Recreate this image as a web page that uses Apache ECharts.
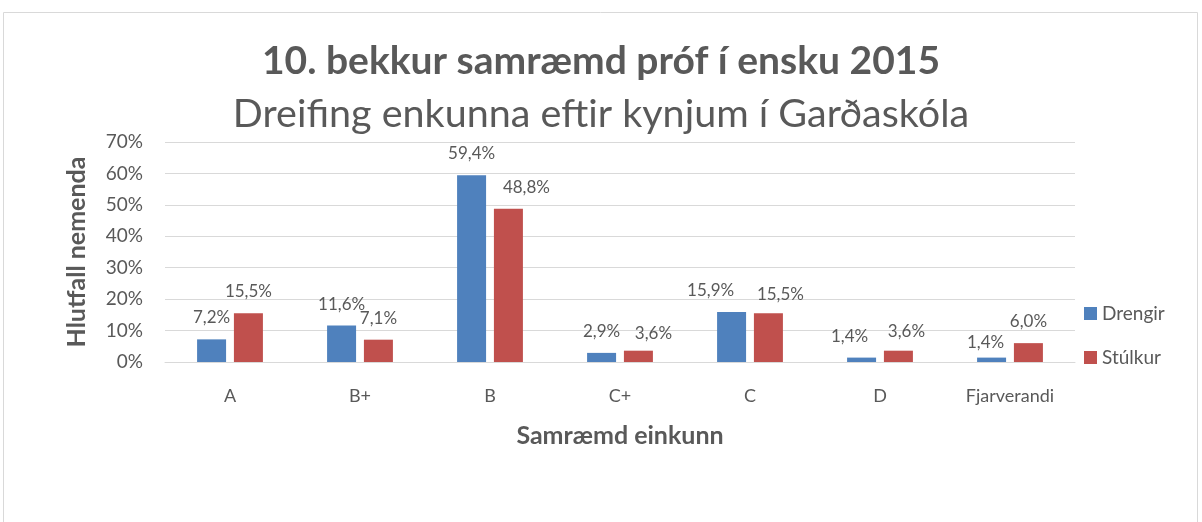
<!DOCTYPE html>
<html><head><meta charset="utf-8">
<script src="https://cdn.jsdelivr.net/npm/echarts@6/dist/echarts.min.js"></script>
<style>html,body{margin:0;padding:0;background:#fff}#c{width:1202px;height:522px}</style>
</head><body><div id="c"></div>
<script>
const categories = ['A','B+','B','C+','C','D','Fjarverandi'];
const drengir = [7.2, 11.6, 59.4, 2.9, 15.9, 1.4, 1.4];
const stulkur = [15.5, 7.1, 48.8, 3.6, 15.5, 3.6, 6.0];
const seriesNames = ['Drengir','Stúlkur'];
const titleText = '10. bekkur samræmd próf í ensku 2015';
const subtitleText = 'Dreifing enkunna eftir kynjum í Garðaskóla';
const yName = 'Hlutfall nemenda';
const xName = 'Samræmd einkunn';

// label nudges (style only), as in the reference where some labels were moved apart
const labelNudgeD = [[0,0],[0,0],[0,0],[0,0],[-21,0],[-12,0],[-6,6]];
const labelNudgeS = [[0,0],[0,0],[18,0],[15,4],[12,3],[8,2],[0,0]];

const FONT = 'Lato';
const GRAY = '#595959';
const fmt = p => p.value.toFixed(1).replace('.', ',') + '%';
const withNudge = (vals, nudges) => vals.map((v, i) => ({value: v, label: {offset: nudges[i]}}));
const chart = echarts.init(document.getElementById('c'));
chart.setOption({
  animation: false,
  textStyle: {fontFamily: FONT},
  graphic: [{type:'rect', shape:{x:3.5,y:12.5,width:1194,height:520}, style:{fill:'none', stroke:'#d9d9d9', lineWidth:1}}],
  title: [
    {text: titleText, left: 'center', top: 37, textStyle:{fontFamily:FONT, fontSize:39, fontWeight:'bold', color:GRAY}},
    {text: subtitleText, left: 'center', top: 89, textStyle:{fontFamily:FONT, fontSize:39.5, fontWeight:'normal', color:GRAY}}
  ],
  legend: {
    orient:'vertical', left:1079, top:299, itemGap:25, itemWidth:13, itemHeight:13, icon:'rect',
    textStyle:{fontFamily:FONT, fontSize:19, color:GRAY}, data: seriesNames
  },
  grid: {left:165, right:127, top:142, bottom:160},
  xAxis: {
    type:'category', data: categories,
    axisLine:{lineStyle:{color:'#d9d9d9', width:1}}, axisTick:{show:false},
    axisLabel:{fontFamily:FONT, fontSize:18, color:GRAY, margin:25},
    name: xName, nameLocation:'middle', nameGap:61,
    nameTextStyle:{fontFamily:FONT, fontSize:25, fontWeight:'bold', color:GRAY}
  },
  yAxis: {
    type:'value', min:0, max:70, interval:10,
    axisLabel:{formatter:'{value}%', fontFamily:FONT, fontSize:19, color:GRAY, margin:22},
    splitLine:{lineStyle:{color:'#d9d9d9', width:1}},
    axisLine:{show:false}, axisTick:{show:false},
    name: yName, nameLocation:'middle', nameGap:76,
    nameTextStyle:{fontFamily:FONT, fontSize:25, fontWeight:'bold', color:GRAY}
  },
  series: [
    {name:seriesNames[0], type:'bar', data:withNudge(drengir, labelNudgeD), barWidth:29, barGap:'27%', itemStyle:{color:'#4F81BD'},
     label:{show:true, position:'top', distance:13, formatter:fmt, fontFamily:FONT, fontSize:17, color:GRAY}},
    {name:seriesNames[1], type:'bar', data:withNudge(stulkur, labelNudgeS), barWidth:29, itemStyle:{color:'#C0504D'},
     label:{show:true, position:'top', distance:13, formatter:fmt, fontFamily:FONT, fontSize:17, color:GRAY}}
  ]
});
</script></body></html>
